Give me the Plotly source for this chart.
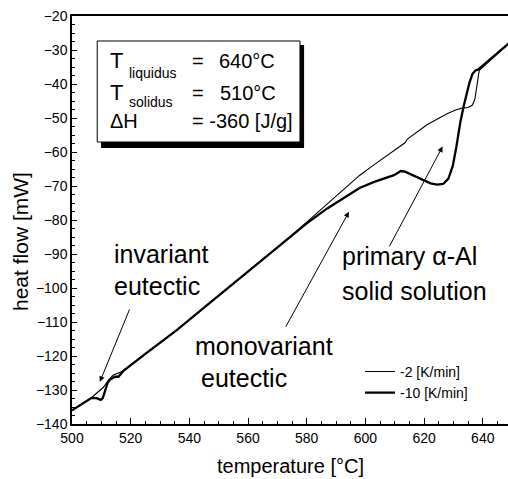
import plotly.graph_objects as go

# DSC cooling curves of the alloy at two cooling rates
temp_slow = [500, 503, 506.7, 510.7, 512.4, 514.1, 516.9, 517.5, 525, 535.7, 545, 555, 565, 570, 574.3,
             580, 587, 593, 598, 603, 607, 610, 612.5, 613.5, 614.3, 616, 618, 621, 625, 628, 631,
             633, 635, 636.5, 637.3, 637.9, 638.4, 638.8, 650]
flow_slow = [-136.0, -134.3, -132.2, -129.2, -127.1, -125.6, -124.7, -124.4, -119.4, -112.4, -105.8, -98.7, -91.6, -88.0, -85.0,
             -80.6, -75.2, -70.6, -66.9, -63.7, -61.2, -59.3, -57.8, -57.3, -56.2, -55.2, -53.9, -52.0, -50.1, -48.7, -47.6,
             -47.1, -46.9, -46.2, -44.5, -41.5, -38.5, -36.0, -27.2]

temp_fast = [500, 503, 506.7, 508.4, 509.8, 510.5, 511.3, 512.1, 513.0, 514.7, 515.8, 516.9, 517.5, 525, 535.7,
             545, 555, 565, 570, 574.3, 580, 587, 593, 598, 603, 607, 609.5, 611, 612, 613.5, 615, 617.7,
             620, 622.2, 624.5, 626.5, 628.3, 629.8, 631, 632.4, 633.5, 634.5, 635.5, 636.5, 637.5, 638.5, 650]
flow_fast = [-136.0, -134.3, -132.3, -132.4, -132.9, -132.4, -130.0, -128.0, -126.9, -126.1, -126.1, -125.1, -124.4, -119.4, -112.4,
             -105.8, -98.7, -91.6, -88.0, -85.0, -81.0, -76.6, -73.3, -70.6, -68.8, -67.6, -66.9, -66.2, -65.6, -65.8, -66.4, -67.3,
             -68.3, -69.2, -69.6, -69.4, -67.8, -64.0, -58.5, -51.0, -46.5, -42.5, -39.5, -37.0, -36.0, -35.7, -27.2]

rate_labels = ["-2 [K/min]", "-10 [K/min]"]
x_ticks = [500, 520, 540, 560, 580, 600, 620, 640]
y_ticks = [-140, -130, -120, -110, -100, -90, -80, -70, -60, -50, -40, -30, -20]

FONT = "Liberation Sans, Arial, Helvetica, sans-serif"

fig = go.Figure()
fig.add_trace(go.Scatter(x=temp_slow, y=flow_slow, mode="lines", name=rate_labels[0],
                         line=dict(color="black", width=1.1)))
fig.add_trace(go.Scatter(x=temp_fast, y=flow_fast, mode="lines", name=rate_labels[1],
                         line=dict(color="black", width=2.3)))

# framed parameter box with drop shadow
fig.add_shape(type="rect", xref="x", yref="y", x0=509.9, x1=579.1, y0=-28.53, y1=-58.82,
              fillcolor="black", line=dict(width=0))
fig.add_shape(type="rect", xref="x", yref="y", x0=508.6, x1=577.7, y0=-27.35, y1=-57.06,
              fillcolor="white", line=dict(color="black", width=1))

def label(text, x, y, size, anchor="left"):
    fig.add_annotation(x=x, y=y, xref="x", yref="y", text=text, showarrow=False,
                       xanchor=anchor, yanchor="middle",
                       font=dict(family=FONT, size=size, color="black"))

label("T", 512.3, -33.15, 22)
label("liquidus", 518.6, -36.7, 14)
label("=", 540.2, -33.35, 20)
label("640°C", 549.4, -33.35, 20)
label("T", 512.3, -42.5, 22)
label("solidus", 518.6, -45.25, 14)
label("=", 540.2, -42.7, 20)
label("510°C", 549.8, -42.7, 20)
label("ΔH", 512.3, -50.8, 20)
label("= -360 [J/g]", 540.2, -50.8, 20)

# descriptive labels of the thermal events
label("invariant", 513.6, -90.0, 25)
label("eutectic", 513.6, -99.5, 25)
label("monovariant", 541.1, -117.1, 25)
label("eutectic", 543.3, -126.6, 25)
label("primary α-Al", 591.3, -90.7, 25)
label("solid solution", 591.3, -101.0, 25)

def arrow(x_head, y_head, x_tail, y_tail):
    fig.add_annotation(x=x_head, y=y_head, ax=x_tail, ay=y_tail, xref="x", yref="y",
                       axref="x", ayref="y", text="", showarrow=True,
                       arrowhead=2, arrowsize=1.1, arrowwidth=1, arrowcolor="black")

arrow(509.5, -127.6, 519.8, -105.9)
arrow(594.4, -77.6, 572.6, -111.8)
arrow(626.3, -58.4, 607.9, -88.2)

# axis titles
fig.add_annotation(x=-0.1193, y=0.4485, xref="paper", yref="paper", text="heat flow [mW]",
                   showarrow=False, textangle=-90, xanchor="center", yanchor="middle",
                   font=dict(family=FONT, size=21, color="black"))
fig.add_annotation(x=0.5, y=-0.103, xref="paper", yref="paper", text="temperature [°C]",
                   showarrow=False, xanchor="center", yanchor="middle",
                   font=dict(family=FONT, size=20, color="black"))

fig.update_layout(
    width=508, height=479,
    margin=dict(l=72, r=0, t=16, b=55),
    paper_bgcolor="white", plot_bgcolor="white",
    font=dict(family=FONT, size=14, color="black"),
    showlegend=True,
    legend=dict(x=0.6606, y=0.167, xanchor="left", yanchor="top",
                bgcolor="rgba(0,0,0,0)", borderwidth=0,
                font=dict(family=FONT, size=14, color="black")),
)
fig.update_xaxes(range=[500, 648.6], tickvals=x_ticks, showgrid=False, zeroline=False,
                 showline=True, linecolor="black", linewidth=1.5, mirror=True,
                 ticks="inside", ticklen=6, tickwidth=1, tickcolor="black",
                 minor=dict(dtick=5, tick0=500, ticks="inside", ticklen=3, tickcolor="black", showgrid=False),
                 tickfont=dict(family=FONT, size=14, color="black"))
fig.update_yaxes(range=[-140, -20], tickvals=y_ticks, showgrid=False, zeroline=False,
                 showline=True, linecolor="black", linewidth=1.5, mirror=False,
                 ticks="inside", ticklen=5, tickwidth=1, tickcolor="black",
                 minor=dict(dtick=2.5, tick0=-140, ticks="inside", ticklen=3, tickcolor="black", showgrid=False),
                 tickfont=dict(family=FONT, size=14, color="black"))

fig.write_html("out.html")
